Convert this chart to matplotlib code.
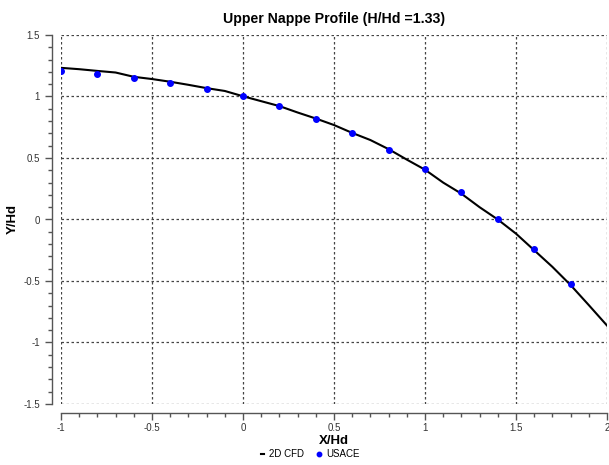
import numpy as np
import matplotlib
matplotlib.use("Agg")
import matplotlib.pyplot as plt
from matplotlib.ticker import MultipleLocator, FormatStrFormatter

plt.rcParams['font.family'] = ['Liberation Sans', 'DejaVu Sans']

# 2D CFD upper nappe profile
cfd_x = [-1.0, -0.9, -0.8, -0.7, -0.6, -0.5, -0.4, -0.3, -0.2, -0.1,
         0.0, 0.1, 0.2, 0.3, 0.4, 0.5, 0.6, 0.7, 0.8, 0.9,
         1.0, 1.1, 1.2, 1.3, 1.4, 1.5, 1.6, 1.7, 1.8, 1.9, 2.0]
cfd_y = [1.233, 1.222, 1.208, 1.195, 1.160, 1.142, 1.120, 1.095, 1.068, 1.045,
         1.002, 0.962, 0.922, 0.870, 0.821, 0.768, 0.704, 0.646, 0.572, 0.487,
         0.405, 0.300, 0.210, 0.100, 0.000, -0.115, -0.250, -0.385, -0.533, -0.696, -0.862]

# USACE data
usace_x = [-1.0, -0.8, -0.6, -0.4, -0.2, 0.0, 0.2, 0.4, 0.6, 0.8, 1.0, 1.2, 1.4, 1.6, 1.8]
usace_y = [1.210, 1.185, 1.151, 1.110, 1.060, 1.000, 0.919, 0.821, 0.705, 0.569,
           0.411, 0.220, 0.002, -0.241, -0.526]

fig = plt.figure(figsize=(6.09, 4.65), dpi=100)
ax = fig.add_axes([61/609, 61/465, 546/609, 369/465])

ax.plot(cfd_x, cfd_y, color='black', lw=1.5, label='2D CFD', zorder=2)
ax.plot(usace_x, usace_y, 'o', color='blue', ms=4, label='USACE', zorder=3)

ax.set_xlim(-1, 2)
ax.set_ylim(-1.5, 1.5)

ax.xaxis.set_major_locator(MultipleLocator(0.5))
ax.xaxis.set_minor_locator(MultipleLocator(0.1))
ax.yaxis.set_major_locator(MultipleLocator(0.5))
ax.yaxis.set_minor_locator(MultipleLocator(0.1))
ax.xaxis.set_major_formatter(FormatStrFormatter('%g'))
ax.yaxis.set_major_formatter(FormatStrFormatter('%g'))

# offset spines like the original
for s in ['top', 'right']:
    ax.spines[s].set_visible(False)
for s in ['left', 'bottom']:
    ax.spines[s].set_position(('outward', 6.5))
    ax.spines[s].set_color('#555555')
    ax.spines[s].set_linewidth(1.0)

ax.tick_params(which='major', direction='out', length=5, width=1, color='#555555',
               labelsize=7, labelcolor='#333333')
ax.tick_params(axis='x', which='major', pad=2)
ax.tick_params(which='minor', direction='out', length=3, width=1, color='#555555')

# set grid
ax.grid(which='major', color='#444444', linestyle=(0, (2, 2)), linewidth=0.9)
ax.set_axisbelow(True)

ax.set_xlabel('X/Hd', fontsize=9.5, fontweight='bold', va='top')
ax.xaxis.set_label_coords(0.5, -0.083)
ax.set_ylabel('Y/Hd', fontsize=9.5, fontweight='bold')
ax.yaxis.set_label_coords(-0.077, 0.5)
ax.set_title('Upper Nappe Profile (H/Hd =1.33)', fontsize=10.2, fontweight='bold', pad=9)

fig.legend(loc='center', bbox_to_anchor=(310/609, 1 - 454/465), ncol=2, frameon=False,
           fontsize=7, handlelength=0.3, handletextpad=0.6, columnspacing=1.3,
           markerscale=0.8)

plt.savefig('out.png', dpi=100)
